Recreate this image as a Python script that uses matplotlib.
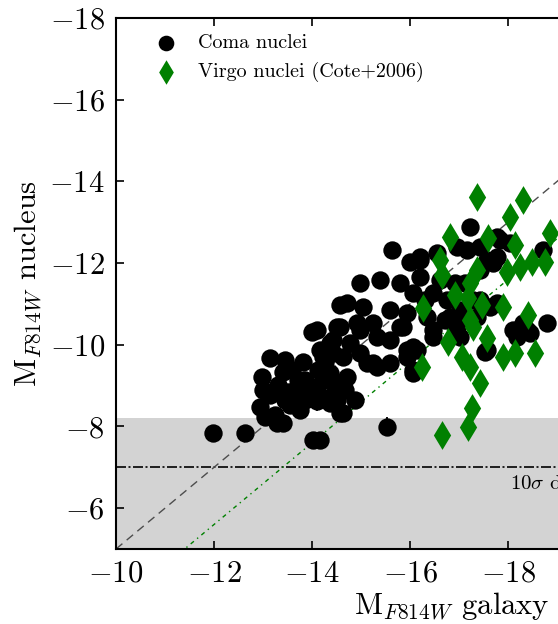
import matplotlib
matplotlib.use("Agg")
import matplotlib.pyplot as plt
import numpy as np

plt.rcParams['font.family'] = 'serif'
plt.rcParams['font.serif'] = ['cmr10']
plt.rcParams['mathtext.fontset'] = 'cm'
plt.rcParams['axes.formatter.use_mathtext'] = True

# Coma nuclei (galaxy mag, nucleus mag)
coma_gal = [-11.98, -12.63, -13.14, -12.98, -13.00, -12.94, -13.04, -13.29, -13.76, -14.00,
            -14.57, -14.02, -14.16, -14.57, -13.59, -13.82, -14.16, -14.43, -14.57, -14.22,
            -14.37, -14.67, -13.31, -13.45, -13.65, -13.55, -13.96, -13.86, -13.45,
            -15.63, -14.98, -15.39, -15.80, -14.71, -15.04, -15.59, -14.10, -14.51, -14.92,
            -15.24, -15.80, -14.37, -14.78, -15.33, -14.22, -14.63, -14.98, -15.24, -15.59,
            -15.94, -16.14, -14.37, -14.71, -14.10, -14.37, -14.63, -16.06, -16.00, -16.20,
            -16.06, -17.22, -16.20, -16.55, -16.96, -17.43, -17.78, -17.84, -16.20, -16.61,
            -16.47, -16.76, -17.43, -17.63, -15.94, -16.35, -16.82, -17.37, -17.78, -15.86,
            -16.47, -16.96, -18.10, -18.39, -18.80, -18.71, -18.04, -17.78, -17.16, -17.57,
            -17.69, -17.43, -17.29, -17.16, -18.31, -18.18, -18.45, -17.57, -17.02, -16.06,
            -17.53, -16.47, -15.94,
            -13.41, -13.51, -13.71, -13.86, -14.12, -14.27, -14.47, -14.88, -13.41, -14.51,
            -14.98, -15.12, -15.33, -14.43, -15.59, -16.06, -13.14, -13.24,
            -16.92, -16.31, -16.71, -17.12, -17.02]
coma_nuc = [-7.84, -7.84, -9.68, -9.21, -8.89, -8.48, -8.23, -8.09, -8.40, -10.31,
            -10.97, -7.67, -7.67, -8.33, -9.38, -9.58, -9.87, -10.12, -10.44, -9.14,
            -8.72, -8.89, -9.02, -8.65, -8.89, -8.53, -8.77, -9.14, -9.63,
            -12.32, -11.51, -11.59, -11.51, -11.02, -10.93, -10.85, -10.36, -10.44, -10.53,
            -10.53, -10.44, -10.04, -10.04, -10.19, -9.70, -9.70, -9.80, -9.55, -9.55,
            -9.70, -9.87, -9.31, -9.21, -8.97, -8.58, -8.33, -9.31, -12.03, -12.15,
            -11.27, -12.88, -12.08, -12.25, -12.39, -12.39, -12.15, -12.57, -11.66, -11.59,
            -11.27, -11.10, -11.10, -10.93, -10.78, -10.68, -10.68, -10.68, -11.02, -10.44,
            -10.36, -10.44, -10.36, -10.36, -10.53, -12.32, -12.49, -12.64, -12.32, -12.08,
            -12.00, -11.83, -11.10, -10.68, -10.53, -10.19, -10.29, -9.87, -10.19, -9.38,
            -9.82, -10.19, -9.87,
            -9.33, -8.84, -9.14, -8.65, -9.38, -9.58, -9.02, -8.65, -8.09, -8.65,
            -10.36, -9.55, -9.46, -9.80, -10.12, -9.95, -8.77, -8.28,
            -11.51, -11.10, -10.61, -11.51, -10.85]

# Coma nuclei shown with error bars
err_gal = [-15.53, -14.10]
err_nuc = [-7.99, -8.62]
err_val = [0.23, 0.25]

# Virgo nuclei (Cote+2006)
virgo_gal = [-17.37, -18.31, -18.04, -18.86, -16.82, -17.59, -18.14, -16.61, -16.65, -17.37,
             -17.22, -17.98, -18.24, -18.49, -18.76, -16.27, -16.92, -17.18, -17.47, -17.22,
             -17.29, -17.90, -18.41, -17.57, -16.78, -17.06, -17.22, -17.43, -17.27, -17.18,
             -16.65, -17.90, -18.14, -18.55, -16.24]
virgo_nuc = [-13.62, -13.54, -13.13, -12.74, -12.64, -12.61, -12.44, -12.08, -11.71, -11.83,
             -11.51, -11.78, -11.90, -12.03, -12.03, -10.90, -11.22, -11.15, -10.97, -10.61,
             -10.44, -10.93, -10.73, -10.17, -10.07, -9.70, -9.46, -9.06, -8.45, -7.99,
             -7.79, -9.70, -9.80, -9.80, -9.46]

detection_limit = -7.0
shade_top = -8.2
one_to_one_offset = 5.0
virgo_offset = 6.4

fig = plt.figure(figsize=(5.58, 6.24), dpi=100)
ax = fig.add_axes([116/558, 75/624, 672/558, 531/624])

xmin, xmax = -10, -23.71
ymin, ymax = -5, -18
ax.axhspan(ymin, shade_top, color='#d3d3d3', zorder=0, lw=0)
ax.axhline(detection_limit, color='k', lw=1.2, ls=(0, (6, 1.5, 1.2, 1.5)), zorder=1)
ax.text(-18.04, -6.8, r'10$\sigma$ detection limit', fontsize=15, ha='left', va='top')

xx = np.array([xmin, xmax])
ax.plot(xx, xx + one_to_one_offset, color='0.3', lw=1.0, ls=(0, (6, 4)), zorder=1)
ax.plot(xx, xx + virgo_offset, color='green', lw=1.0, ls=(0, (3, 3, 1, 3)), zorder=1)

ax.scatter(coma_gal, coma_nuc, s=175, c='k', marker='o', lw=0, zorder=2,
           label='Coma nuclei')
ax.errorbar(err_gal, err_nuc, yerr=err_val, fmt='o', color='k', ms=13.2, mew=0,
            capsize=5, elinewidth=1.3, capthick=1.3, zorder=2)
ax.scatter(virgo_gal, virgo_nuc, s=215, c='green', marker='d', lw=0, zorder=3,
           label='Virgo nuclei (Cote+2006)')

ax.set_xlim(xmin, xmax)
ax.set_ylim(ymin, ymax)
ax.set_xticks(np.arange(-10, -24, -2))
ax.set_yticks(np.arange(-6, -19, -2))
ax.tick_params(direction='in', length=6, width=1.2, labelsize=22, pad=8,
               top=True, right=True)
for sp in ax.spines.values():
    sp.set_linewidth(1.5)

ax.set_xlabel(r'M$_{F814W}$ galaxy', fontsize=22, labelpad=2)
ax.set_ylabel(r'M$_{F814W}$ nucleus', fontsize=22, labelpad=4)

ax.legend(loc='upper left', frameon=False, fontsize=14.5, scatterpoints=1,
          markerscale=0.85, handletextpad=0.6, borderaxespad=0.0,
          bbox_to_anchor=(22/672, 1 - 8/531))

fig.savefig('out.png', dpi=100)
